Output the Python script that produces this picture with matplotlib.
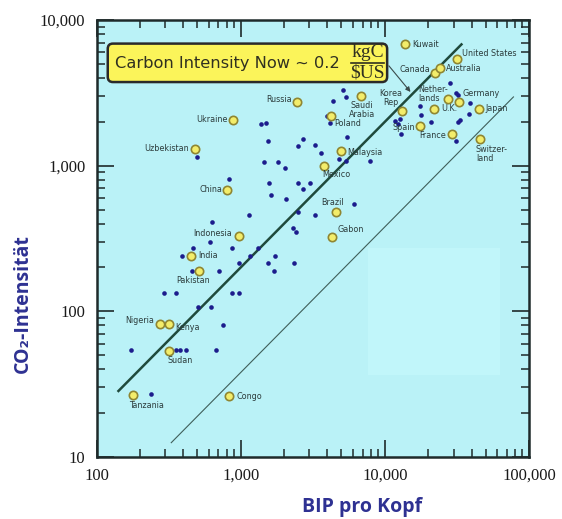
import matplotlib
matplotlib.use("Agg")
import matplotlib.pyplot as plt
from matplotlib.patches import FancyBboxPatch, Rectangle
from matplotlib.ticker import FixedLocator, LogLocator, FuncFormatter, NullFormatter
import numpy as np

# GDP per head ($US) and carbon intensity for the named countries
countries = ["Kuwait", "United States", "Canada", "Australia", "Russia",
             "Saudi\nArabia", "Korea\nRep", "Nether-\nlands", "Germany", "U.K.",
             "Japan", "Poland", "Spain", "France", "Switzer-\nland",
             "Uzbekistan", "Ukraine", "Malaysia", "Mexico", "China",
             "Brazil", "Gabon", "Indonesia", "India", "Pakistan",
             "Nigeria", "Kenya", "Sudan", "Tanzania", "Congo"]
gdp = [13800, 31600, 22200, 24100, 2450,
       6800, 13150, 27400, 32600, 21900,
       45000, 4230, 17500, 29200, 45600,
       482, 885, 4960, 3780, 804,
       4580, 4300, 973, 452, 514,
       276, 318, 318, 179, 830]
intensity = [6840, 5400, 4330, 4690, 2740,
             3010, 2370, 2870, 2740, 2450,
             2450, 2190, 1870, 1650, 1525,
             1300, 2060, 1260, 995, 681,
             481, 324, 330, 240, 189,
             82, 82, 53.5, 26.7, 26.2]

# unlabelled countries
other_gdp = [5120, 5370, 4370, 3970, 4160, 1380, 1500, 1550, 2700, 2500,
             3280, 3610, 5460, 4810, 5370, 7880, 1450, 1820, 2030, 1570,
             2500, 3030, 2700, 500, 830, 1620, 2060, 1140, 2500, 3280,
             630, 2310, 2420, 610, 470, 870, 1320, 390, 1160, 1730,
             970, 1550, 2340, 460, 710, 1700, 6100, 295, 355, 870,
             970, 505, 620, 755, 173, 355, 380, 420, 675, 240,
             28250, 31100, 32100, 38900, 17500, 17800, 20900, 32100, 33200, 38300,
             11750, 12700, 12900, 31100, 12300]
other_intensity = [3310, 2970, 2780, 2190, 1960, 1930, 1960, 1480, 1525, 1365,
                   1390, 1220, 1570, 1110, 1080, 1080, 1060, 1060, 965, 760,
                   760, 760, 690, 1150, 810, 630, 590, 460, 480, 460,
                   410, 375, 350, 300, 270, 270, 270, 240, 240, 240,
                   215, 215, 215, 190, 190, 190, 545, 134, 134, 134,
                   134, 107, 107, 81, 54, 54, 54, 54, 54, 27,
                   3700, 3150, 3050, 2690, 2570, 2230, 2000, 2000, 2060, 2260,
                   2030, 2090, 1650, 1480, 1930]

# reference lines: intensity = ratio * GDP
fit_gdp = [142, 34000]
fit_ratio = 0.2
low_gdp = [330, 78000]
low_ratio = 0.038

# label offsets in pixels (dx, dy, ha, va)
label_pos = [(7, 0, "left", "center"), (5, 5, "left", "center"),
             (-5, 3, "right", "center"), (6, -1, "left", "center"),
             (-5, 2, "right", "center"), (1, -5, "center", "top"),
             (-11, 4, "center", "bottom"), (-30, 5, "left", "center"),
             (4, 8, "left", "center"), (7, 0, "left", "center"),
             (6, 0, "left", "center"), (3, -7, "left", "center"),
             (-5, -1, "right", "center"), (-6, -2, "right", "center"),
             (-4, -6, "left", "top"), (-6, 1, "right", "center"),
             (-5, 0, "right", "center"), (6, -1, "left", "center"),
             (-2, -9, "left", "center"), (-5, 0, "right", "center"),
             (-3, 9, "center", "center"), (6, 7, "left", "center"),
             (-7, 2, "right", "center"), (7, 0, "left", "center"),
             (-6, -9, "center", "center"), (-6, 3, "right", "center"),
             (6, -4, "left", "center"), (-1, -10, "left", "center"),
             (-4, -11, "left", "center"), (7, 0, "left", "center")]

bg = "#baf2f7"
dot_col = "#1c1c8c"
txt_col = "#2c3c3c"
title_blue = "#2e3192"
box_txt = "#303020"

fig = plt.figure(figsize=(5.62, 5.19), dpi=100)
ax = fig.add_axes([96.5 / 562, 62 / 519, 432.5 / 562, 437 / 519])
ax.set_facecolor(bg)
ax.set_xscale("log")
ax.set_yscale("log")
ax.set_xlim(100, 100000)
ax.set_ylim(10, 10000)

# slightly lighter patch in the lower right of the plot area
ax.add_patch(Rectangle((0.628, 0.188), 0.305, 0.29, transform=ax.transAxes,
                       facecolor="#c1f6fa", edgecolor="none", zorder=0))

# lines
fg = np.array(fit_gdp)
ax.plot(fg, fit_ratio * fg, color="#1f4a3c", lw=1.8, zorder=2)
lg = np.array(low_gdp)
ax.plot(lg, low_ratio * lg, color="#3f5f5a", lw=0.8, zorder=2)

# points
ax.scatter(other_gdp, other_intensity, s=11, color=dot_col, zorder=3,
           linewidths=0)
ax.scatter(gdp, intensity, s=36, facecolor="#f3ed6a", edgecolor="#8f8632",
           linewidths=1.2, zorder=4)

for name, x, y, (dx, dy, ha, va) in zip(countries, gdp, intensity, label_pos):
    ax.annotate(name, (x, y), xytext=(dx * 0.72, dy * 0.72),
                textcoords="offset points", ha=ha, va=va, fontsize=5.8,
                color=txt_col, linespacing=1.05, zorder=5)

# headline box
ax.add_patch(FancyBboxPatch((0.03, 0.862), 0.638, 0.08,
                            boxstyle="round,pad=0.004,rounding_size=0.012",
                            transform=ax.transAxes, facecolor="#fbf45a",
                            edgecolor="#2a2a2a", lw=1.8, zorder=6))
ax.text(0.043, 0.9, "Carbon Intensity Now ~ 0.2", transform=ax.transAxes,
        fontsize=11.7, color=box_txt, va="center", ha="left", zorder=7)
ax.text(0.627, 0.925, "kgC", transform=ax.transAxes, family="Liberation Serif",
        fontsize=14, color=box_txt, va="center", ha="center", zorder=7)
ax.text(0.627, 0.878, r"\$US", transform=ax.transAxes, family="Liberation Serif",
        fontsize=14, color=box_txt, va="center", ha="center", zorder=7)
ax.plot([0.589, 0.665], [0.902, 0.902], transform=ax.transAxes,
        color=box_txt, lw=1.2, zorder=7)

# arrow from the box to the fit line
tip = 15500
ax.annotate("", xy=(tip, fit_ratio * tip), xytext=(0.672, 0.9),
            textcoords="axes fraction",
            arrowprops=dict(arrowstyle="-|>", color="#3a4a4a", lw=0.8,
                            mutation_scale=7), zorder=6)

# axes styling
for sp in ax.spines.values():
    sp.set_linewidth(1.8)
    sp.set_color("#1e2a2a")

fmt = FuncFormatter(lambda v, p: f"{v:,.0f}")
ax.xaxis.set_major_locator(FixedLocator([100, 1000, 10000, 100000]))
ax.yaxis.set_major_locator(FixedLocator([10, 100, 1000, 10000]))
ax.xaxis.set_major_formatter(fmt)
ax.yaxis.set_major_formatter(fmt)
ax.xaxis.set_minor_locator(LogLocator(base=10, subs=np.arange(2, 10)))
ax.yaxis.set_minor_locator(LogLocator(base=10, subs=np.arange(2, 10)))
ax.xaxis.set_minor_formatter(NullFormatter())
ax.yaxis.set_minor_formatter(NullFormatter())
ax.tick_params(which="both", direction="in", top=True, right=True,
               color="#1e2a2a")
ax.tick_params(which="major", length=12, width=1.2, pad=8,
               labelsize=12, labelcolor="#1a1a1a")
ax.tick_params(which="minor", length=6, width=1.1)
for lab in ax.get_xticklabels() + ax.get_yticklabels():
    lab.set_family("Liberation Serif")

fig.text(0.645, 0.023, "BIP pro Kopf", fontsize=14, fontweight="bold",
         color=title_blue, family=["Open Sans", "DejaVu Sans"],
         ha="center", va="center")
fig.text(0.04, 0.415, "CO₂-Intensität", fontsize=14, fontweight="bold",
         color=title_blue, family=["Open Sans", "DejaVu Sans"],
         rotation=90, ha="center", va="center")

fig.savefig("out.png", dpi=100)
